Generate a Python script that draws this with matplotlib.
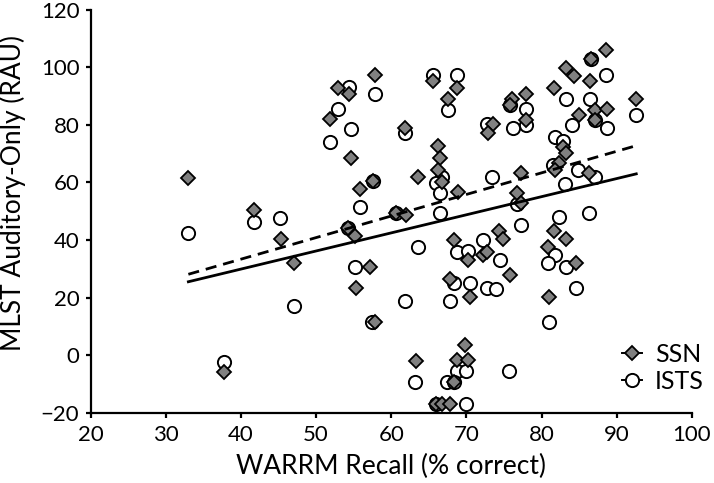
import matplotlib
matplotlib.use("Agg")
import matplotlib.pyplot as plt
from matplotlib.lines import Line2D

plt.rcParams['font.family'] = ['Lato', 'DejaVu Sans']

# SSN (filled diamonds): WARRM recall (%), MLST score (RAU)
ssn_x = [32.9, 41.7, 45.3, 47.0, 37.7, 55.2, 57.2, 55.3, 57.8, 63.3,
         68.3, 70.2, 72.2, 72.7, 67.8, 70.5, 69.8, 68.7, 70.2, 68.3,
         66.0, 66.7, 67.8, 57.8, 52.9, 54.4, 51.8, 54.6, 55.8, 57.6,
         60.6, 62.0, 54.3, 65.5, 68.8, 67.6, 61.8, 66.2, 66.5, 66.2,
         66.7, 63.5, 68.9, 73.5, 72.9, 88.6, 86.6, 83.3, 84.3, 86.4,
         81.7, 92.6, 76.0, 75.8, 77.9, 77.9, 85.0, 87.1, 88.7, 87.1,
         82.9, 83.3, 82.3, 81.8, 86.3, 77.3, 76.7, 77.3, 81.6, 83.3,
         74.4, 74.9, 75.8, 80.9, 84.6, 81.0]
ssn_y = [61.7, 50.5, 40.3, 31.9, -5.8, 41.5, 30.7, 23.4, 11.6, -2.0,
         40.0, 33.1, 34.8, 36.0, 26.4, 20.3, 3.5, -1.7, -1.7, -9.4,
         -17.0, -17.0, -17.0, 97.4, 92.8, 90.7, 82.0, 68.4, 57.8, 60.5,
         49.3, 48.7, 44.1, 95.1, 92.8, 89.0, 78.9, 72.8, 68.4, 64.4,
         60.3, 62.0, 56.6, 80.4, 77.1, 106.1, 102.9, 99.9, 97.0, 95.1,
         93.0, 89.0, 89.0, 87.0, 90.8, 81.8, 83.5, 85.2, 85.5, 81.8,
         72.5, 70.2, 66.9, 64.4, 63.2, 63.2, 56.5, 52.8, 43.3, 40.4,
         43.0, 40.3, 27.9, 37.5, 32.1, 20.3]

# ISTS (open circles)
ists_x = [32.9, 41.7, 45.2, 47.1, 37.7, 55.2, 63.5, 61.8, 57.4, 63.1,
          68.8, 70.2, 72.2, 74.5, 68.3, 70.5, 67.8, 72.7, 74.0, 68.7,
          69.9, 67.4, 68.3, 69.9, 66.0, 54.4, 57.8, 52.9, 54.6, 51.8,
          57.6, 55.8, 60.6, 54.3, 65.5, 68.8, 67.6, 61.8, 66.7, 66.0,
          66.5, 66.5, 72.7, 73.4, 86.6, 88.6, 83.3, 86.4, 92.6, 75.8,
          77.9, 77.9, 76.2, 84.1, 87.1, 88.7, 81.8, 82.9, 81.5, 84.8,
          87.1, 83.1, 76.7, 77.2, 82.3, 86.3, 81.8, 80.8, 83.2, 84.6,
          81.0, 75.7]
ists_y = [42.4, 46.4, 47.6, 17.1, -2.3, 30.7, 37.5, 18.8, 11.6, -9.4,
          36.0, 36.3, 40.0, 33.2, 25.0, 25.0, 18.8, 23.2, 23.0, -5.4,
          -5.4, -9.4, -9.4, -17.0, -17.0, 93.1, 90.8, 85.5, 78.7, 74.0,
          60.5, 51.6, 49.3, 44.1, 97.4, 97.4, 85.2, 77.1, 62.0, 59.7,
          56.5, 49.3, 80.4, 61.8, 102.9, 97.4, 89.0, 89.1, 83.5, 87.0,
          85.5, 80.0, 78.9, 80.0, 81.8, 78.9, 75.7, 74.5, 66.1, 64.4,
          61.8, 59.4, 52.5, 45.2, 47.9, 49.3, 34.8, 31.9, 30.5, 23.2,
          11.6, -5.4]

# linear trend lines (end points)
fit_x = [33.0, 92.6]
ssn_fit = [28.1, 72.8]
ists_fit = [25.5, 63.0]

fig = plt.figure(figsize=(7.14, 4.83), dpi=100)
ax = fig.add_axes([0.127, 0.1456, 0.842, 0.834])

ax.plot(ists_x, ists_y, linestyle='none', marker='o', markersize=9.5,
        markerfacecolor='white', markeredgecolor='black', markeredgewidth=1.4, zorder=2)
ax.plot(ssn_x, ssn_y, linestyle='none', marker='D', markersize=7.6,
        markerfacecolor='#808080', markeredgecolor='black', markeredgewidth=1.3, zorder=3)

ax.plot(fit_x, ssn_fit, color='black', linewidth=2, dashes=(4, 2.5), zorder=4)
ax.plot(fit_x, ists_fit, color='black', linewidth=2, zorder=4)

ax.set_xlim(20, 100)
ax.set_ylim(-20, 120)
ax.set_xticks(range(20, 101, 10))
ax.set_yticks(range(-20, 121, 20))
ax.set_yticklabels(['\u221220'] + [str(v) for v in range(0, 121, 20)])

for s in ['top', 'right']:
    ax.spines[s].set_visible(False)
for s in ['left', 'bottom']:
    ax.spines[s].set_linewidth(1.6)
ax.tick_params(direction='out', length=3.6, width=1.6, labelsize=16)
ax.tick_params(axis='y', pad=4.5)
ax.tick_params(axis='x', pad=5)

ax.set_xlabel('WARRM Recall (% correct)', fontsize=19)
ax.set_ylabel('MLST Auditory-Only (RAU)', fontsize=19)
ax.xaxis.set_label_coords(0.5, -0.102)
ax.yaxis.set_label_coords(-0.107, 0.546)

handles = [
    Line2D([], [], color='black', linewidth=1.4, marker='D', markersize=7.6,
           markerfacecolor='#808080', markeredgecolor='black', markeredgewidth=1.3),
    Line2D([], [], color='black', linewidth=1.4, marker='o', markersize=9.5,
           markerfacecolor='white', markeredgecolor='black', markeredgewidth=1.4),
]
ax.legend(handles, ['SSN', 'ISTS'], loc='upper left', bbox_to_anchor=(0.883, 0.174),
          frameon=False, fontsize=18, handlelength=0.8, handletextpad=0.53,
          labelspacing=0.16, borderpad=0, borderaxespad=0)

fig.savefig('out.png', dpi=100)
